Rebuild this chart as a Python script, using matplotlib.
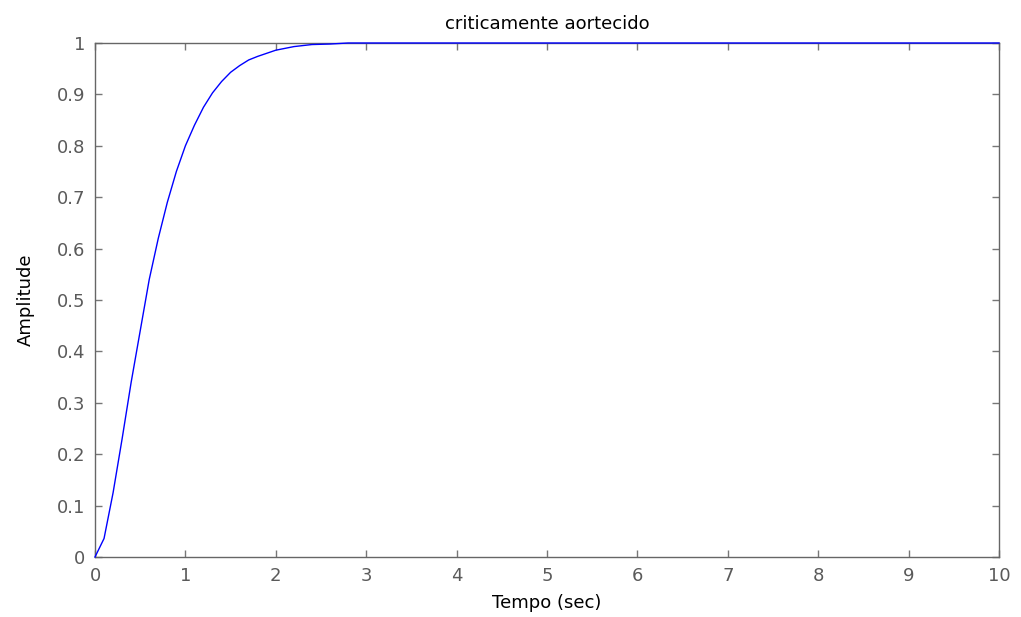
import matplotlib.pyplot as plt

# step response
tempo = [0, 0.1, 0.2, 0.3, 0.4, 0.5, 0.6, 0.7, 0.8, 0.9, 1.0, 1.1, 1.2, 1.3,
         1.4, 1.5, 1.6, 1.7, 1.8, 1.9, 2.0, 2.2, 2.4, 2.6, 2.8, 3.0, 10]
amplitude = [0, 0.036, 0.125, 0.23, 0.34, 0.44, 0.54, 0.62, 0.69, 0.75, 0.80,
             0.84, 0.875, 0.903, 0.925, 0.943, 0.956, 0.967, 0.974, 0.98, 0.986,
             0.993, 0.997, 0.998, 1.0, 1.0, 1.0]

x_ticks = list(range(0, 11))
y_ticks = [0, 0.1, 0.2, 0.3, 0.4, 0.5, 0.6, 0.7, 0.8, 0.9, 1]
y_tick_labels = ['0', '0.1', '0.2', '0.3', '0.4', '0.5', '0.6', '0.7', '0.8', '0.9', '1']

plt.rcParams['font.family'] = ['DejaVu Sans']

fig = plt.figure(figsize=(10.21, 6.17), dpi=100)
ax = fig.add_axes([95 / 1021, 1 - 557 / 617, (999 - 95) / 1021, (557 - 43) / 617])

ax.plot(tempo, amplitude, color='#0000ff', linewidth=1.0, clip_on=False, zorder=3)

ax.set_xlim(0, 10)
ax.set_ylim(0, 1)
ax.set_xticks(x_ticks)
ax.set_yticks(y_ticks)
ax.set_yticklabels(y_tick_labels)

ax.tick_params(direction='in', length=5, width=1, color='#777777',
               labelcolor='#5a5a5a', labelsize=13, top=True, right=True)
ax.tick_params(axis='x', pad=7)
ax.tick_params(axis='y', pad=7)
for side in ax.spines.values():
    side.set_color('#666666')
    side.set_linewidth(1.0)

ax.set_title('criticamente aortecido', fontsize=13, color='black', pad=10)
ax.set_xlabel('Tempo (sec)', fontsize=13, color='black', labelpad=7)
ax.set_ylabel('Amplitude', fontsize=13, color='black', labelpad=16)

fig.savefig('out.png', dpi=100)
